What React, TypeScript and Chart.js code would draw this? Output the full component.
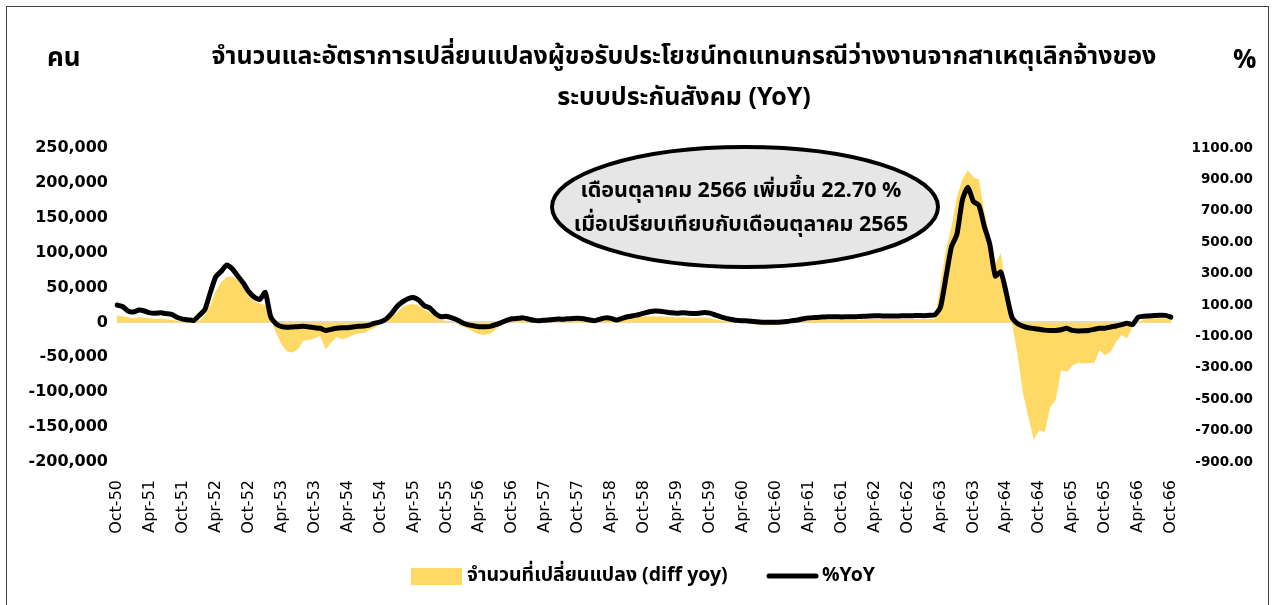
import React, { useEffect, useRef } from 'react';
import { Chart, registerables } from 'chart.js';

Chart.register(...registerables);

// ---------- data ----------
const MONTHS = ['Oct', 'Nov', 'Dec', 'Jan', 'Feb', 'Mar', 'Apr', 'May', 'Jun', 'Jul', 'Aug', 'Sep'];
const FISCAL_YEARS = [50, 51, 52, 53, 54, 55, 56, 57, 58, 59, 60, 61, 62, 63, 64, 65];
const LAST_LABEL = 'Oct-66';

// จำนวนที่เปลี่ยนแปลง (diff yoy), persons – one row per fiscal year (Oct..Sep)
const DIFF_YOY = [
  10000, 9000, 7500, 6000, 7500, 7000, 5500, 5000, 5500, 4500, 4000, 2000,
  1000, 500, 0, 3000, 10000, 25000, 45000, 58000, 65000, 66000, 60000, 50000,
  37000, 30000, 27000, 25000, 5000, -15000, -32000, -42000, -43000, -38000, -26000, -25000,
  -23000, -19500, -38500, -29000, -21000, -24000, -22000, -18000, -16000, -15000, -11000, -8000,
  -2000, 2000, 8000, 14000, 22000, 25500, 26500, 24000, 19000, 14000, 9000, 4000,
  2000, 0, -2000, -6000, -9000, -14000, -17000, -18000, -16000, -10000, -4000, 0,
  2500, 3000, 3500, 2000, 500, 0, 500, 1000, 2000, 2000, 2500, 3000,
  3000, 2500, 1000, 0, 2000, 3500, 3000, 1000, 3000, 5000, 6500, 7500,
  8500, 9000, 9000, 8500, 8000, 7500, 7000, 7500, 7000, 6500, 7000, 7000,
  6000, 4500, 3000, 1500, 500, 0, -500, -1500, -2500, -3500, -4000, -4000,
  -3500, -2500, -1500, 0, 1000, 2000, 3000, 3500, 3500, 3500, 4000, 4000,
  4000, 4000, 4000, 4000, 4500, 5000, 5000, 5000, 5000, 5000, 5000, 5000,
  5000, 5000, 5000, 5000, 5000, 5000, 55000, 105000, 137000, 180000, 205000, 218000,
  208000, 205000, 159000, 120000, 85000, 99000, 46000, 0, -44000, -100000, -135000, -168000,
  -154000, -157000, -121000, -111000, -68000, -71000, -62000, -58000, -59000, -58000, -58000, -40000,
  -47000, -42000, -28000, -18000, -23000, -6000, 0, 5000, 6000, 6000, 6000, 6000,
  4000,
];

// %YoY
const PCT_YOY = [
  100, 90, 62, 55, 68, 62, 50, 48, 50, 45, 40, 20,
  10, 5, 2, 35, 70, 180, 280, 315, 355, 330, 285, 240,
  185, 150, 135, 180, 25, -20, -38, -42, -40, -38, -36, -40,
  -45, -48, -62, -55, -48, -45, -45, -40, -36, -34, -28, -15,
  -8, 10, 45, 90, 120, 140, 148, 130, 95, 80, 45, 25,
  28, 18, 5, -15, -27, -33, -38, -38, -36, -25, -12, 2,
  12, 15, 18, 10, 2, 0, 3, 6, 10, 10, 12, 14,
  15, 12, 5, 0, 10, 18, 15, 4, 15, 25, 32, 38,
  48, 57, 62, 60, 55, 50, 47, 50, 48, 46, 48, 52,
  48, 36, 25, 15, 8, 2, 0, -2, -5, -8, -10, -10,
  -10, -8, -5, 0, 5, 12, 18, 20, 22, 24, 25, 25,
  24, 25, 25, 26, 28, 30, 32, 31, 30, 30, 30, 31,
  32, 32, 33, 32, 34, 38, 85, 275, 470, 550, 770, 850,
  760, 735, 600, 485, 285, 310, 175, 25, -17, -35, -45, -50,
  -55, -60, -62, -62, -58, -48, -62, -65, -64, -62, -55, -48,
  -48, -40, -34, -25, -17, -25, 22, 28, 30, 33, 35, 34,
  22.7,
];

const LEFT_MIN = -200000;
const LEFT_MAX = 250000;
const LEFT_STEP = 50000;
const RIGHT_MIN = -900;
const RIGHT_MAX = 1100;
const RIGHT_STEP = 200;

const TITLE_LINES = [
  'จำนวนและอัตราการเปลี่ยนแปลงผู้ขอรับประโยชน์ทดแทนกรณีว่างงานจากสาเหตุเลิกจ้างของ',
  'ระบบประกันสังคม (YoY)',
];
const LEFT_UNIT = 'คน';
const RIGHT_UNIT = '%';
const NOTE_LINES = [
  'เดือนตุลาคม 2566 เพิ่มขึ้น 22.70 %',
  'เมื่อเปรียบเทียบกับเดือนตุลาคม 2565',
];
const SERIES_NAMES = ['จำนวนที่เปลี่ยนแปลง (diff yoy)', '%YoY'];

const LABELS: string[] = [];
FISCAL_YEARS.forEach((fy) => {
  MONTHS.forEach((m, mi) => {
    const yr = mi < 3 ? fy : fy + 1;
    LABELS.push(`${m}-${yr}`);
  });
});
LABELS.push(LAST_LABEL);

// ---------- styling ----------
const THAI = '"Noto Sans Thai", "Noto Sans", "DejaVu Sans", sans-serif';
const TICK_FONT = '"DejaVu Sans", "Noto Sans", sans-serif';
const AREA_COLOR = '#FFD966';

const overlayPlugin = {
  id: 'overlay',
  beforeDraw(chart: any) {
    const ctx = chart.ctx;
    ctx.save();
    ctx.fillStyle = '#ffffff';
    ctx.fillRect(0, 0, chart.width, chart.height);
    ctx.strokeStyle = '#404040';
    ctx.lineWidth = 1;
    ctx.strokeRect(6.5, 6.5, 1262, 640);
    ctx.restore();
  },
  afterDatasetsDraw(chart: any) {
    const ctx = chart.ctx;
    ctx.save();
    // callout ellipse
    ctx.beginPath();
    ctx.ellipse(745, 207, 193, 60, 0, 0, Math.PI * 2);
    ctx.fillStyle = '#E7E6E6';
    ctx.fill();
    ctx.lineWidth = 4;
    ctx.strokeStyle = '#000000';
    ctx.stroke();
    ctx.fillStyle = '#000000';
    ctx.textAlign = 'center';
    ctx.textBaseline = 'middle';
    ctx.font = `bold 21.5px ${THAI}`;
    ctx.fillText(NOTE_LINES[0], 741, 193);
    ctx.fillText(NOTE_LINES[1], 741, 227);
    ctx.restore();
  },
  afterDraw(chart: any) {
    const ctx = chart.ctx;
    ctx.save();
    ctx.fillStyle = '#000000';
    ctx.textBaseline = 'middle';
    // title
    ctx.textAlign = 'center';
    ctx.font = `bold 25px ${THAI}`;
    ctx.fillText(TITLE_LINES[0], 684, 59);
    ctx.fillText(TITLE_LINES[1], 684, 100);
    // unit labels
    ctx.textAlign = 'left';
    ctx.font = `bold 26px ${THAI}`;
    ctx.fillText(LEFT_UNIT, 47, 61);
    ctx.fillText(RIGHT_UNIT, 1233, 63);
    // legend
    ctx.fillStyle = AREA_COLOR;
    ctx.fillRect(411, 568, 51, 17);
    ctx.fillStyle = '#000000';
    ctx.font = `bold 19.5px ${THAI}`;
    ctx.fillText(SERIES_NAMES[0], 467, 577);
    ctx.beginPath();
    ctx.moveTo(769, 576);
    ctx.lineTo(816, 576);
    ctx.lineWidth = 5;
    ctx.lineCap = 'round';
    ctx.strokeStyle = '#000000';
    ctx.stroke();
    ctx.fillText(SERIES_NAMES[1], 822, 577);
    ctx.restore();
  },
};

export default function App() {
  const canvasRef = useRef<HTMLCanvasElement | null>(null);

  useEffect(() => {
    const canvas = canvasRef.current;
    if (!canvas) return;
    const chart = new Chart(canvas, {
      type: 'line',
      data: {
        labels: LABELS,
        datasets: [
          {
            label: SERIES_NAMES[1],
            data: PCT_YOY,
            yAxisID: 'y1',
            borderColor: '#000000',
            borderWidth: 5,
            pointRadius: 0,
            tension: 0.2,
            fill: false,
            order: 1,
            borderJoinStyle: 'round',
            borderCapStyle: 'round',
          },
          {
            label: SERIES_NAMES[0],
            data: DIFF_YOY,
            yAxisID: 'y',
            borderWidth: 0,
            borderColor: AREA_COLOR,
            backgroundColor: AREA_COLOR,
            pointRadius: 0,
            tension: 0,
            fill: 'origin',
            order: 2,
          },
        ],
      },
      options: {
        responsive: false,
        animation: false,
        devicePixelRatio: 1,
        layout: { padding: { left: 10, right: 23, top: 148, bottom: 63 } },
        plugins: {
          legend: { display: false },
          title: { display: false },
          tooltip: { enabled: false },
        },
        scales: {
          x: {
            type: 'category',
            offset: false,
            grid: { display: false },
            border: { display: false },
            afterFit: (scale: any) => { scale.height = 80; },
            ticks: {
              autoSkip: false,
              minRotation: 90,
              maxRotation: 90,
              padding: 10,
              color: '#000000',
              font: { family: TICK_FONT, size: 16 },
              callback: (_v: any, i: number) => (i % 6 === 0 ? LABELS[i] : ''),
            },
          },
          y: {
            position: 'left',
            min: LEFT_MIN,
            max: LEFT_MAX,
            afterFit: (scale: any) => { scale.width = 107; },
            border: { display: false },
            grid: {
              drawTicks: false,
              color: (c: any) => (c.tick && c.tick.value === 0 ? '#D9D9D9' : 'rgba(0,0,0,0)'),
              lineWidth: 2,
            },
            ticks: {
              stepSize: LEFT_STEP,
              padding: 9,
              color: '#000000',
              font: { family: TICK_FONT, size: 16, weight: 'bold' },
              callback: (v: any) => Number(v).toLocaleString('en-US'),
            },
          },
          y1: {
            position: 'right',
            min: RIGHT_MIN,
            max: RIGHT_MAX,
            afterFit: (scale: any) => { scale.width = 82; },
            border: { display: false },
            grid: { display: false, drawTicks: false },
            ticks: {
              stepSize: RIGHT_STEP,
              crossAlign: 'far',
              color: '#000000',
              font: { family: TICK_FONT, size: 13.5, weight: 'bold' },
              callback: (v: any) => Number(v).toFixed(2),
            },
          },
        },
      },
      plugins: [overlayPlugin],
    } as any);
    return () => chart.destroy();
  }, []);

  return (
    <div style={{ position: 'absolute', left: 0, top: 0, width: 1276, height: 605 }}>
      <canvas ref={canvasRef} width={1276} height={605} style={{ display: 'block' }} />
    </div>
  );
}
